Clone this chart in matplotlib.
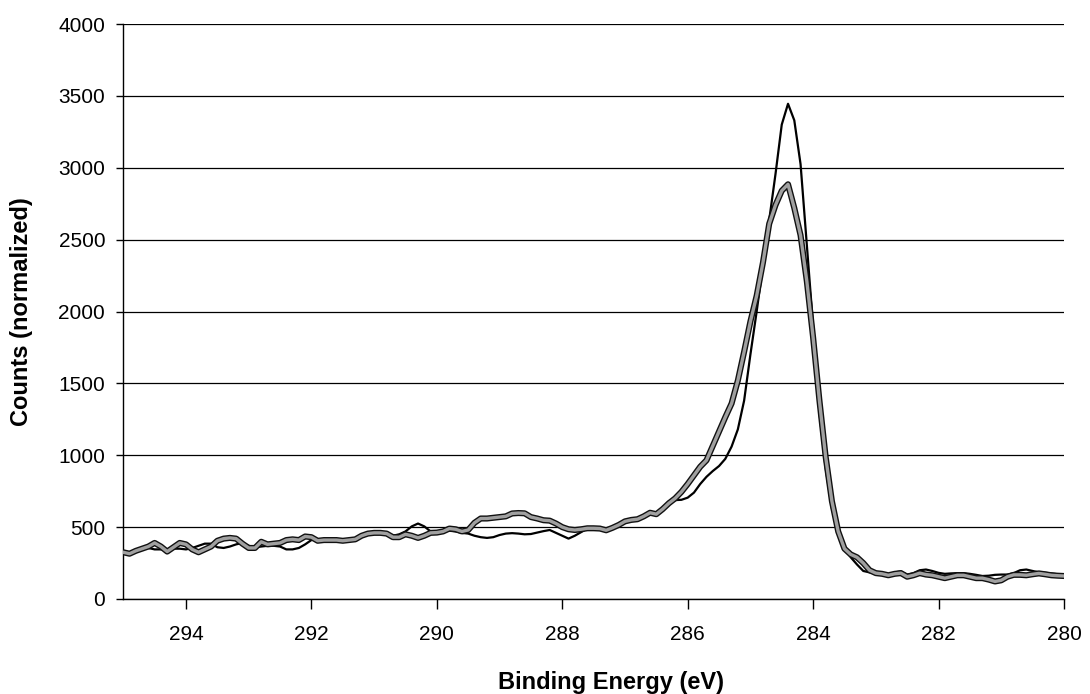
import numpy as np
import matplotlib
matplotlib.use("Agg")
import matplotlib.pyplot as plt
import matplotlib.patheffects as pe

plt.rcParams['font.family'] = ['Liberation Sans', 'DejaVu Sans']

# Binding energy grid (eV), 295.0 -> 280.0 in 0.1 eV steps
energy = np.round(np.linspace(295.0, 280.0, 151), 2)

# Gray (thick, outlined) spectrum
gray_counts = [
    325, 315, 335, 350, 365, 390, 365, 330, 360, 390, 380, 345, 325, 345, 365, 405,
    420, 425, 420, 385, 355, 355, 398, 380, 385, 390, 410, 415, 410, 435, 430,
    405, 410, 410, 410, 405, 410, 415, 440, 455, 460, 460, 455, 430, 430, 450, 440,
    425, 440, 460, 462, 470, 490, 485, 470, 480, 530, 560, 560, 565, 570, 575,
    595, 598, 596, 570, 560, 548, 545, 525, 500, 485, 480, 485, 492, 492, 490, 478,
    495, 515, 540, 550, 555, 575, 600, 590, 625,
    666, 700, 745, 800, 860, 920, 965, 1065, 1165, 1265, 1360, 1520, 1720, 1930,
    2110, 2340, 2610, 2740, 2840, 2885, 2720, 2530, 2210, 1820, 1384, 990, 680,
    470, 350, 310, 290, 250, 200,
    180, 175, 165, 175, 180, 155, 165, 180, 170, 165, 155, 145, 155, 165, 165, 155,
    145, 145, 135, 122, 130, 155, 168, 168, 165, 172, 178, 172, 165, 162, 160,
]

# Black (thin) spectrum
black_counts = [
    330, 325, 340, 350, 355, 345, 345, 340, 350, 350, 345, 355, 370, 385, 385, 360,
    355, 365, 380, 390, 370, 360, 365, 370, 370, 365, 345, 345, 355, 380, 410,
    415, 410, 405, 410, 410, 415, 420, 440, 455, 460, 455, 445, 440, 450, 470, 505,
    525, 505, 470, 465, 470, 475, 470, 460, 455, 440, 430, 425, 430, 445, 455,
    458, 455, 450, 452, 462, 472, 480, 460, 440, 420, 440, 465, 490, 492, 490, 478,
    495, 515, 535, 548, 555, 575, 595, 600, 630,
    680, 688, 690, 705, 740, 800, 850, 890, 925, 975, 1060, 1180, 1380, 1700,
    2000, 2318, 2636, 2955, 3300, 3445, 3330, 3025, 2461, 1900, 1300, 910, 630,
    470, 360, 290, 240, 195, 185,
    180, 178, 170, 185, 192, 170, 180, 200, 205, 195, 182, 175, 178, 180, 180, 175,
    168, 160, 162, 168, 170, 170, 180, 200, 205, 195, 185, 182, 178, 172, 165,
]

x_ticks = [294, 292, 290, 288, 286, 284, 282, 280]
y_ticks = [0, 500, 1000, 1500, 2000, 2500, 3000, 3500, 4000]

fig = plt.figure(figsize=(10.9, 6.94), dpi=100)
ax = fig.add_axes([0.1131, 0.1369, 0.9761 - 0.1131, 0.9654 - 0.1369])

ax.plot(energy, black_counts, color='black', lw=1.6, zorder=3,
        solid_joinstyle='round')
ax.plot(energy, gray_counts, color='#a0a0a0', lw=2.4, zorder=4,
        solid_joinstyle='round',
        path_effects=[pe.Stroke(linewidth=4.4, foreground='#111111'), pe.Normal()])

ax.set_xlim(295, 280)
ax.set_ylim(0, 4000)
ax.set_xticks(x_ticks)
ax.set_yticks(y_ticks)
ax.yaxis.grid(True, color='black', lw=0.9)
ax.set_axisbelow(True)

for s in ['top', 'right']:
    ax.spines[s].set_visible(False)
for s in ['left', 'bottom']:
    ax.spines[s].set_color('black')
    ax.spines[s].set_linewidth(1.0)

ax.tick_params(axis='y', direction='out', length=5, width=1, pad=8, labelsize=15)
ax.tick_params(axis='x', direction='out', length=7, width=1, pad=12, labelsize=15)

ax.set_xlabel('Binding Energy (eV)', fontsize=17, fontweight='bold', labelpad=15)
ax.set_ylabel('Counts (normalized)', fontsize=17, fontweight='bold', labelpad=18)
ax.xaxis.set_label_coords(0.518, -0.125)

fig.savefig('out.png', dpi=100, facecolor='white')
